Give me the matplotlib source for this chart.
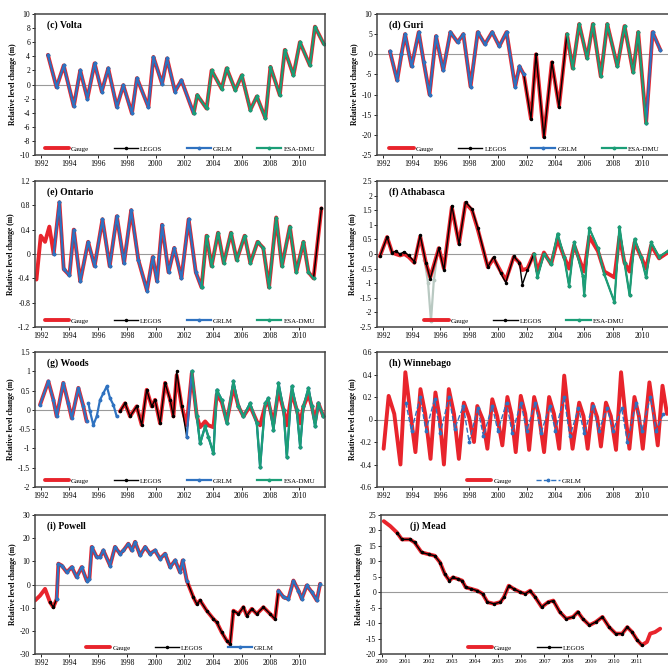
import numpy as np
import matplotlib.pyplot as plt
from matplotlib.ticker import FormatStrFormatter

plt.rcParams['font.family'] = ['Liberation Serif', 'DejaVu Serif']

### values (decimal year, level change in m)
years_2 = [1992, 1994, 1996, 1998, 2000, 2002, 2004, 2006, 2008, 2010]
years_1 = [2000, 2001, 2002, 2003, 2004, 2005, 2006, 2007, 2008, 2009, 2010, 2011]

# (c) Volta
volta_t = [1992.5, 1993.1, 1993.6, 1994.3, 1994.75, 1995.25, 1995.75, 1996.25, 1996.7, 1997.3,
           1997.75, 1998.35, 1998.7, 1999.5, 1999.85, 2000.45, 2000.8, 2001.35, 2001.8, 2002.65,
           2002.9, 2003.55, 2003.9, 2004.6, 2004.95, 2005.55, 2006.0, 2006.6, 2007.05, 2007.65,
           2008.0, 2008.65, 2009.0, 2009.6, 2010.05, 2010.75, 2011.1, 2011.7]
volta_lev = [4.2, -0.4, 2.7, -3.1, 2.0, -2.0, 3.0, -1.0, 2.3, -3.2,
             -0.1, -4.1, 0.9, -3.2, 3.9, 0.1, 3.7, -1.0, 0.6, -4.1,
             -1.5, -3.4, 2.0, -0.6, 2.3, -0.8, 1.3, -3.6, -1.7, -4.8,
             2.5, -1.5, 4.9, 1.3, 6.0, 2.7, 8.2, 5.8]
volta_yticks = [-10, -8, -6, -4, -2, 0, 2, 4, 6, 8, 10]

# (d) Guri
guri_t = [1992.5, 1993.0, 1993.3, 1993.55, 1994.0, 1994.5, 1994.85, 1995.25, 1995.7, 1996.2,
          1996.7, 1997.2, 1997.6, 1998.1, 1998.6, 1999.1, 1999.6, 2000.1, 2000.6, 2001.2,
          2001.5, 2001.8, 2002.3, 2002.65, 2003.2, 2003.75, 2004.25, 2004.8, 2005.2, 2005.65,
          2006.2, 2006.6, 2007.15, 2007.6, 2008.3, 2008.8, 2009.4, 2009.75, 2010.3, 2010.75,
          2011.3]
guri_lev = [0.7, -6.5, 0.0, 5.0, -3.0, 5.5, -2.0, -10.0, 4.5, -4.0,
            5.5, 3.0, 5.0, -8.0, 5.5, 2.5, 5.5, 2.0, 5.5, -8.0,
            -3.0, -5.0, -16.0, 0.0, -20.5, -2.0, -13.0, 5.0, -3.5, 7.5,
            -1.0, 7.5, -5.5, 7.5, -3.0, 7.0, -4.5, 5.5, -17.0, 5.5,
            1.0]
guri_yticks = [-25, -20, -15, -10, -5, 0, 5, 10]

# (e) Ontario
ont_t = [1991.7, 1992.0, 1992.3, 1992.6, 1992.9, 1993.3, 1993.6, 1994.0, 1994.3, 1994.75,
         1995.3, 1995.75, 1996.3, 1996.8, 1997.3, 1997.8, 1998.3, 1998.8, 1999.4, 1999.8,
         2000.1, 2000.45, 2000.9, 2001.3, 2001.8, 2002.3, 2002.8, 2003.2, 2003.55, 2003.9,
         2004.35, 2004.75, 2005.25, 2005.65, 2006.2, 2006.6, 2007.1, 2007.5, 2007.9, 2008.4,
         2008.8, 2009.35, 2009.8, 2010.3, 2010.65, 2011.0, 2011.55]
ont_lev = [-0.42, 0.3, 0.2, 0.45, 0.0, 0.85, -0.25, -0.35, 0.4, -0.45,
           0.2, -0.2, 0.57, -0.2, 0.62, -0.15, 0.72, -0.1, -0.6, -0.05,
           -0.45, 0.48, -0.3, 0.1, -0.4, 0.57, -0.3, -0.55, 0.3, -0.2,
           0.35, -0.15, 0.35, -0.1, 0.3, -0.15, 0.2, 0.1, -0.55, 0.6,
           -0.2, 0.45, -0.3, 0.2, -0.3, -0.4, 0.75]
ont_yticks = [-1.2, -0.8, -0.4, 0, 0.4, 0.8, 1.2]

# (f) Athabasca
atha_t = [1991.8, 1992.3, 1992.65, 1992.9, 1993.2, 1993.5, 1993.8, 1994.2, 1994.6, 1995.0,
          1995.3, 1995.9, 1996.25, 1996.8, 1997.3, 1997.75, 1998.2, 1998.6, 1999.3, 1999.7,
          2000.2, 2000.55, 2001.1, 2001.5, 2001.7, 2002.05, 2002.5, 2002.75, 2003.2, 2003.7,
          2004.15, 2004.6, 2004.95, 2005.3, 2005.9, 2006.0, 2006.35, 2006.95, 2007.4, 2008.1,
          2008.45, 2008.8, 2009.15, 2009.5, 2009.95, 2010.3, 2010.65, 2011.2, 2011.8]
atha_gauge = [-0.08, 0.58, 0.05, 0.0, -0.05, 0.0, -0.1, -0.3, 0.6, -0.3,
              -0.8, 0.2, -0.5, 1.6, 0.35, 1.75, 1.5, 0.85, -0.45, -0.15,
              -0.6, -0.9, -0.1, -0.3, -0.55, -0.5, 0.0, -0.6, 0.05, -0.35,
              0.5, -0.1, -0.5, 0.3, -0.5, -0.6, 0.6, 0.1, -0.6, -0.8,
              0.6, -0.3, -0.6, 0.4, -0.1, -0.5, 0.3, -0.15, 0.05]
atha_alt = [-0.08, 0.58, 0.05, 0.1, 0.0, 0.08, -0.05, -0.26, 0.64, -0.3,
            -0.85, 0.2, -0.55, 1.66, 0.34, 1.78, 1.54, 0.9, -0.44, -0.1,
            -0.66, -0.98, -0.08, -0.3, -1.05, -0.55, 0.0, -0.8, 0.0, -0.35,
            0.7, -0.1, -1.1, 0.4, -0.75, -1.4, 0.88, 0.2, -0.7, -1.65,
            0.94, -0.3, -1.4, 0.52, -0.1, -0.8, 0.4, -0.1, 0.1]
atha_esa95_t = [1994.9, 1995.15, 1995.35, 1995.55, 1995.85]
atha_esa95 = [-0.2, -1.0, -2.3, -0.9, 0.2]
atha_yticks = [-2.5, -2, -1.5, -1, -0.5, 0, 0.5, 1, 1.5, 2, 2.5]

# (g) Woods
woods_t = [1991.95, 1992.53, 1992.88, 1993.11, 1993.57, 1993.92, 1994.16, 1994.62, 1994.97, 1995.2,
           1996.3, 1997.52, 1997.87, 1998.22, 1998.68, 1999.03, 1999.38, 1999.73, 1999.96, 2000.31,
           2000.66, 2001.01, 2001.24, 2001.47, 2001.82, 2002.17, 2002.52, 2002.87, 2003.1, 2003.45,
           2003.68, 2004.03, 2004.26, 2004.61, 2004.96, 2005.42, 2005.77, 2006.12, 2006.58, 2007.05,
           2007.28, 2007.63, 2007.86, 2008.21, 2008.56, 2008.91, 2009.14, 2009.49, 2009.83, 2010.07,
           2010.3, 2010.65, 2010.88, 2011.11, 2011.34, 2011.69]
woods_gauge = [0.13, 0.74, 0.26, -0.17, 0.70, 0.17, -0.22, 0.57, 0.09, -0.30,
               np.nan, -0.04, 0.17, -0.17, 0.09, -0.39, 0.52, 0.09, 0.26, -0.35,
               0.70, 0.26, -0.17, 0.9, 0.09, -0.4, 0.95, -0.17, -0.45, -0.3,
               -0.4, -0.45, 0.4, 0.2, -0.3, 0.6, 0.09, -0.17, 0.1, -0.3,
               -0.4, 0.1, 0.2, -0.35, 0.5, 0.0, -0.4, 0.45, 0.0, -0.35,
               0.09, 0.4, 0.09, -0.3, 0.17, -0.17]
woods_alt = [0.13, 0.74, 0.26, -0.17, 0.70, 0.17, -0.22, 0.57, 0.09, -0.30,
             np.nan, -0.04, 0.17, -0.17, 0.09, -0.39, 0.52, 0.09, 0.26, -0.35,
             0.70, 0.26, -0.17, 1.0, 0.09, -0.70, 1.0, -0.17, -0.87, -0.43,
             -0.70, -1.13, 0.52, 0.26, -0.35, 0.74, 0.09, -0.17, 0.17, -0.35,
             -1.48, 0.17, 0.30, -0.52, 0.70, 0.0, -1.22, 0.61, 0.0, -0.96,
             0.09, 0.57, 0.09, -0.43, 0.17, -0.17]
woods_grlm_t = [1995.32, 1995.43, 1995.66, 1995.9, 1996.13, 1996.36, 1996.6, 1996.83, 1997.06, 1997.29]
woods_grlm = [0.17, -0.04, -0.39, -0.17, 0.26, 0.43, 0.61, 0.30, 0.13, -0.17]
woods_yticks = [-2, -1.5, -1, -0.5, 0, 0.5, 1, 1.5]

# (h) Winnebago
winn_t = [1992.06, 1992.41, 1992.8, 1993.23, 1993.57, 1993.9, 1994.27, 1994.62, 1994.95, 1995.32,
          1995.66, 1995.95, 1996.25, 1996.59, 1996.95, 1997.29, 1997.64, 1998.0, 1998.34, 1998.57,
          1998.95, 1999.27, 1999.61, 1999.95, 2000.31, 2000.66, 2000.95, 2001.24, 2001.59, 2001.9,
          2002.17, 2002.52, 2002.85, 2003.21, 2003.56, 2003.9, 2004.26, 2004.61, 2004.9, 2005.19,
          2005.65, 2005.95, 2006.24, 2006.58, 2006.9, 2007.16, 2007.51, 2007.85, 2008.21, 2008.56,
          2008.85, 2009.14, 2009.49, 2009.8, 2010.07, 2010.53, 2010.85, 2011.11, 2011.44, 2011.75]
winn_gauge = [-0.26, 0.21, 0.05, -0.40, 0.42, 0.08, -0.29, 0.27, 0.05, -0.35,
              0.24, 0.02, -0.40, 0.27, 0.05, -0.35, 0.15, 0.02, -0.20, 0.12,
              0.0, -0.26, 0.18, 0.03, -0.23, 0.20, 0.04, -0.29, 0.21, 0.05,
              -0.27, 0.20, 0.04, -0.29, 0.20, 0.05, -0.26, 0.39, 0.05, -0.26,
              0.15, 0.03, -0.26, 0.14, 0.02, -0.24, 0.15, 0.03, -0.27, 0.42,
              0.05, -0.26, 0.20, 0.03, -0.26, 0.33, 0.04, -0.23, 0.30, 0.05]
winn_grlm_t = [1993.6, 1994.0, 1994.6, 1995.0, 1995.6, 1996.0, 1996.6, 1997.0, 1997.6, 1998.0,
               1998.6, 1999.0, 1999.6, 2000.0, 2000.6, 2001.0, 2001.6, 2002.0, 2002.6, 2003.0,
               2003.6, 2004.0, 2004.6, 2005.0, 2005.6, 2006.0, 2006.6, 2007.0, 2007.6, 2008.0,
               2008.6, 2009.0, 2009.6, 2010.0, 2010.6, 2011.0, 2011.5]
winn_grlm = [0.15, -0.1, 0.2, -0.1, 0.18, -0.12, 0.2, -0.08, 0.12, -0.2,
             0.1, -0.15, 0.12, -0.1, 0.15, -0.12, 0.15, -0.1, 0.15, -0.12,
             0.12, -0.1, 0.2, -0.15, 0.1, -0.12, 0.12, -0.1, 0.1, -0.1,
             0.1, -0.2, 0.15, -0.1, 0.2, -0.1, 0.05]
winn_yticks = [-0.6, -0.4, -0.2, 0, 0.2, 0.4, 0.6]

# (i) Powell
powell_t = [1991.6, 1991.95, 1992.3, 1992.65, 1992.88, 1993.11, 1993.23, 1993.46, 1993.81, 1994.16,
            1994.5, 1994.85, 1995.2, 1995.39, 1995.55, 1995.9, 1996.13, 1996.36, 1996.83, 1997.17,
            1997.52, 1997.76, 1998.1, 1998.34, 1998.57, 1998.92, 1999.27, 1999.61, 1999.96, 2000.31,
            2000.66, 2001.01, 2001.36, 2001.7, 2001.89, 2002.17, 2002.63, 2002.87, 2003.1, 2003.56,
            2004.03, 2004.26, 2004.61, 2004.96, 2005.19, 2005.42, 2005.77, 2006.12, 2006.35, 2006.7,
            2007.05, 2007.51, 2007.98, 2008.32, 2008.56, 2008.91, 2009.25, 2009.6, 2009.95, 2010.18,
            2010.53, 2010.88, 2011.23, 2011.46]
powell_lev = [-6.9, -4.8, -1.9, -7.7, -9.8, -6.2, 9.0, 8.2, 5.3, 7.5,
              3.2, 7.5, 1.7, 2.5, 16.2, 11.8, 11.8, 14.7, 8.2, 16.2,
              13.3, 14.7, 17.6, 14.7, 18.4, 12.6, 16.2, 13.3, 14.7, 11.1,
              13.3, 7.5, 10.4, 5.3, 10.4, 1.7, -5.5, -8.4, -6.9, -11.3,
              -14.9, -16.3, -20.7, -24.3, -25.7, -11.3, -12.7, -9.8, -13.4, -10.5,
              -12.7, -9.8, -12.7, -14.9, -2.6, -5.5, -6.2, 1.7, -2.6, -6.2,
              -0.4, -3.3, -6.9, 0.3]
powell_yticks = [-30, -20, -10, 0, 10, 20, 30]

# (j) Mead
mead_t = [2000.07, 2000.35, 2000.64, 2000.85, 2001.2, 2001.4, 2001.7, 2002.0, 2002.27, 2002.5,
          2002.7, 2002.9, 2003.05, 2003.26, 2003.45, 2003.6, 2003.83, 2004.1, 2004.33, 2004.54,
          2004.82, 2005.1, 2005.25, 2005.46, 2005.67, 2005.96, 2006.17, 2006.38, 2006.6, 2006.88,
          2007.16, 2007.38, 2007.66, 2007.94, 2008.23, 2008.44, 2008.65, 2008.94, 2009.22, 2009.5,
          2009.79, 2010.07, 2010.35, 2010.57, 2010.78, 2011.0, 2011.2, 2011.42, 2011.56, 2011.77,
          2011.99]
mead_lev = [23.0, 21.4, 19.3, 17.1, 17.1, 16.1, 12.9, 12.3, 11.8, 9.6,
            5.9, 3.75, 4.8, 4.3, 3.75, 1.6, 1.1, 0.5, -0.5, -3.2,
            -3.75, -3.2, -1.6, 2.1, 1.1, 0.0, -0.5, 0.5, -1.6, -4.8,
            -3.2, -2.7, -6.4, -8.6, -8.0, -6.4, -8.6, -10.7, -9.6, -8.0,
            -11.3, -13.4, -13.4, -11.3, -12.9, -15.5, -17.1, -16.1, -13.4, -12.9,
            -11.8]
mead_yticks = [-20, -15, -10, -5, 0, 5, 10, 15, 20, 25]

RED = '#e8242c'
BLUE = '#2f72c0'
GREEN = '#1b9e77'


def part(t, v, spans):
    t = np.asarray(t, float)
    v = np.array(v, float)
    keep = np.zeros(t.size, bool)
    for a, b in spans:
        keep |= (t >= a) & (t <= b)
    v[~keep] = np.nan
    return v


def gauge(ax, t, v):
    ax.plot(t, v, color=RED, lw=2.8, label='Gauge', solid_capstyle='round')

def legos(ax, t, v):
    ax.plot(t, v, color='k', lw=1.0, marker='.', ms=3, label='LEGOS')

def grlm(ax, t, v, label='GRLM'):
    ax.plot(t, v, color=BLUE, lw=1.6, marker='.', ms=3.5, label=label)

def esa(ax, t, v, label='ESA-DMU', color=GREEN):
    ax.plot(t, v, color=color, lw=1.6, marker='.', ms=3.5, label=label)


W, H = 668, 667
def box(left, top, right, bottom):
    return [left / W, 1 - bottom / H, (right - left) / W, (bottom - top) / H]

fig = plt.figure(figsize=(6.68, 6.67), dpi=100)

rows = [(14, 155), (181, 327), (352, 487), (515, 654)]
cols = [(35, 325), (377, 672)]


def setup(ax, title, yticks, xlim, xticks, tx=0.04, xfs=5.5):
    ax.axhline(0, color='#9a9a9a', lw=0.8, zorder=0)
    ax.set_xlim(xlim)
    ax.set_ylim(yticks[0], yticks[-1])
    ax.set_yticks(yticks)
    ax.set_xticks(xticks)
    ax.yaxis.set_major_formatter(FormatStrFormatter('%g'))
    ax.tick_params(direction='out', length=2, width=0.6, labelsize=5.5, pad=1.5)
    ax.tick_params(axis='x', labelsize=xfs)
    for s in ax.spines.values():
        s.set_linewidth(1.1)
        s.set_color('#444444')
    ax.set_ylabel('Relative level change (m)', fontsize=5.5, fontweight='bold', labelpad=2)
    ax.text(tx, 0.92, title, transform=ax.transAxes, fontsize=7, fontweight='bold', va='center')
    h, l = ax.get_legend_handles_labels()
    seen = {}
    for hh, ll in zip(h, l):
        seen.setdefault(ll, hh)
    ax.legend(seen.values(), seen.keys(), loc='lower center', ncol=len(seen), frameon=False,
              fontsize=5, handlelength=3.5, columnspacing=3.5, handletextpad=0.3,
              borderaxespad=0.1)


left_x = (1991.6, 2011.8)
right_x = (1991.6, 2012.1)

# (c) Volta
ax = fig.add_axes(box(cols[0][0], rows[0][0], cols[0][1], rows[0][1]))
gauge(ax, volta_t, volta_lev)
legos(ax, volta_t, volta_lev)
grlm(ax, volta_t, part(volta_t, volta_lev, [(1992.4, 2002.7)]))
esa(ax, volta_t, part(volta_t, volta_lev, [(2002.6, 2011.8)]))
setup(ax, '(c) Volta', volta_yticks, left_x, years_2)

# (d) Guri
ax = fig.add_axes(box(cols[1][0], rows[0][0], cols[1][1], rows[0][1]))
gauge(ax, guri_t, guri_lev)
legos(ax, guri_t, guri_lev)
grlm(ax, guri_t, part(guri_t, guri_lev, [(1992.4, 2002.0), (2010.2, 2011.4)]))
esa(ax, guri_t, part(guri_t, guri_lev, [(2004.5, 2010.3)]))
setup(ax, '(d) Guri', guri_yticks, right_x, years_2)

# (e) Ontario
ax = fig.add_axes(box(cols[0][0], rows[1][0], cols[0][1], rows[1][1]))
gauge(ax, ont_t, ont_lev)
legos(ax, ont_t, part(ont_t, ont_lev, [(1992.8, 2011.6)]))
grlm(ax, ont_t, part(ont_t, ont_lev, [(1992.8, 2003.3)]))
esa(ax, ont_t, part(ont_t, ont_lev, [(2003.2, 2011.0)]))
setup(ax, '(e) Ontario', ont_yticks, left_x, years_2)

# (f) Athabasca
ax = fig.add_axes(box(cols[1][0], rows[1][0], cols[1][1], rows[1][1]))
esa(ax, atha_esa95_t, atha_esa95, label='_esa95', color='#b9c9c2')
gauge(ax, atha_t, atha_gauge)
legos(ax, atha_t, atha_alt)
esa(ax, atha_t, part(atha_t, atha_alt, [(2002.5, 2011.8)]))
setup(ax, '(f) Athabasca', atha_yticks, right_x, years_2)

# (g) Woods
ax = fig.add_axes(box(cols[0][0], rows[2][0], cols[0][1], rows[2][1]))
gauge(ax, woods_t, woods_gauge)
legos(ax, woods_t, part(woods_t, woods_alt, [(1997.4, 2011.7)]))
grlm(ax, woods_t, part(woods_t, woods_alt, [(1991.9, 1995.25), (2002.0, 2011.7)]))
grlm(ax, woods_grlm_t, woods_grlm)
esa(ax, woods_t, part(woods_t, woods_alt, [(2002.5, 2011.7)]))
setup(ax, '(g) Woods', woods_yticks, left_x, years_2)

# (h) Winnebago
ax = fig.add_axes(box(cols[1][0], rows[2][0], cols[1][1], rows[2][1]))
gauge(ax, winn_t, winn_gauge)
ax.plot(winn_grlm_t, winn_grlm, color=BLUE, lw=1.0, ls='--', marker='.', ms=3.5, label='GRLM')
setup(ax, '(h) Winnebago', winn_yticks, right_x, years_2)

# (i) Powell
ax = fig.add_axes(box(cols[0][0], rows[3][0], cols[0][1], rows[3][1]))
gauge(ax, powell_t, powell_lev)
legos(ax, powell_t, part(powell_t, powell_lev, [(1992.5, 2011.5)]))
grlm(ax, powell_t, part(powell_t, powell_lev, [(1993.1, 2002.3), (2008.5, 2011.5)]))
setup(ax, '(i) Powell', powell_yticks, left_x, years_2)

# (j) Mead
ax = fig.add_axes(box(381, rows[3][0], cols[1][1], rows[3][1]))
gauge(ax, mead_t, mead_lev)
legos(ax, mead_t, part(mead_t, mead_lev, [(2000.6, 2011.25)]))
setup(ax, '(j) Mead', mead_yticks, (1999.95, 2012.5), years_1, tx=0.1, xfs=4.5)

fig.savefig('out.png', dpi=100)
